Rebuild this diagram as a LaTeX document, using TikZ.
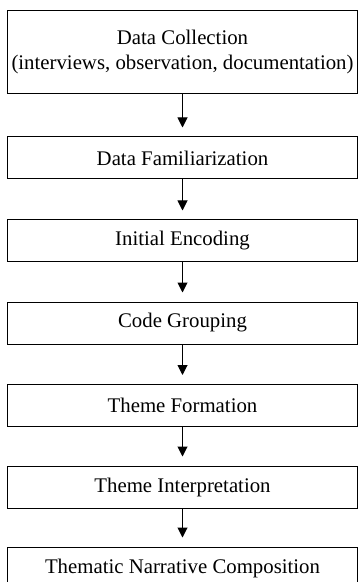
\documentclass[tikz,border=0pt]{standalone}
\usepackage{fontspec}
\setmainfont{Liberation Serif}
\usepackage{tikz}
\usetikzlibrary{arrows.meta,positioning}

\tikzset{
    stepbox/.style={draw, rectangle, line width=0.5pt, minimum width=175pt, minimum height=21pt, inner sep=1pt, align=center, font=\fontsize{10.4}{12.5}\selectfont},
    flowarrow/.style={-{Triangle[length=5pt,width=5pt]}, line width=0.5pt, shorten >=4.5pt}
}

\begin{document}
\begin{tikzpicture}[x=0.5pt, y=-0.5pt]
    \clip (0,0) rectangle (359,582);

    \node[stepbox, minimum height=41.5pt] (collection) at (182.5,52.5) {Data Collection\\(interviews, observation, documentation)};
    
    \node[stepbox] (familiar) at (182.5,158) {Data Familiarization};
    
    \node[stepbox] (encoding) at (182.5,241) {Initial Encoding};
    
    \node[stepbox] (grouping) at (182.5,323) {Code Grouping};
    
    \node[stepbox] (formation) at (182.5,405.5) {Theme Formation};
    
    \node[stepbox] (interpret) at (182.5,487) {Theme Interpretation};
    
    \node[stepbox] (narrative) at (182.5,568) {Thematic Narrative Composition};
    
    \draw[flowarrow] (collection) -- (familiar);
    \draw[flowarrow] (familiar) -- (encoding);
    \draw[flowarrow] (encoding) -- (grouping);
    \draw[flowarrow] (grouping) -- (formation);
    \draw[flowarrow] (formation) -- (interpret);
    \draw[flowarrow] (interpret) -- (narrative);
\end{tikzpicture}
\end{document}
